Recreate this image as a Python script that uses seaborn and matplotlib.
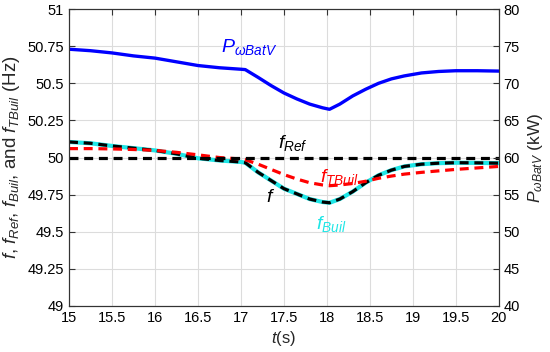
import numpy as np
import pandas as pd
import seaborn as sns
import matplotlib
matplotlib.use("Agg")
import matplotlib.pyplot as plt
from matplotlib.ticker import FuncFormatter

# values
t = [15, 15.25, 15.5, 15.75, 16, 16.25, 16.5, 16.75, 17, 17.05, 17.2, 17.35,
     17.5, 17.65, 17.8, 17.95, 18.03, 18.15, 18.3, 18.45, 18.6, 18.75, 18.9,
     19.1, 19.3, 19.5, 19.75, 20]
f = [50.105, 50.096, 50.078, 50.063, 50.048, 50.025, 49.995, 49.98, 49.97,
     49.965, 49.90, 49.845, 49.79, 49.755, 49.72, 49.70, 49.695, 49.72, 49.77,
     49.83, 49.88, 49.915, 49.94, 49.955, 49.962, 49.965, 49.964, 49.962]
f_buil = [50.105, 50.096, 50.078, 50.063, 50.048, 50.025, 49.995, 49.98, 49.97,
          49.965, 49.90, 49.845, 49.79, 49.755, 49.72, 49.70, 49.695, 49.72,
          49.77, 49.83, 49.88, 49.915, 49.94, 49.955, 49.962, 49.965, 49.964,
          49.962]
f_tbuil = [50.06, 50.06, 50.058, 50.054, 50.048, 50.035, 50.018, 50.0, 49.99,
           49.985, 49.955, 49.92, 49.885, 49.855, 49.83, 49.815, 49.81, 49.815,
           49.825, 49.84, 49.86, 49.875, 49.888, 49.90, 49.91, 49.92, 49.93,
           49.94]
f_ref = [50.0] * len(t)
p_batv = [74.6, 74.4, 74.1, 73.7, 73.4, 72.9, 72.4, 72.1, 71.9, 71.85, 70.8,
          69.7, 68.7, 67.9, 67.2, 66.7, 66.5, 67.2, 68.3, 69.2, 70.0, 70.6,
          71.0, 71.4, 71.6, 71.7, 71.7, 71.65]

df = pd.DataFrame({"t": t, "f": f, "f_buil": f_buil, "f_tbuil": f_tbuil,
                   "f_ref": f_ref, "p": p_batv})

sns.set_style("white")
plt.rcParams["font.family"] = ["Liberation Sans", "DejaVu Sans"]
plt.rcParams["mathtext.fontset"] = "custom"
plt.rcParams["mathtext.rm"] = "Liberation Sans"
plt.rcParams["mathtext.it"] = "Liberation Sans:italic"

fig = plt.figure(figsize=(5.5, 3.52), dpi=100)
ax = fig.add_axes([0.1255, 0.131, 0.7815, 0.843])
ax2 = ax.twinx()

dash = (0, (2.8, 1.8))
sns.lineplot(data=df, x="t", y="f_buil", ax=ax, color="#1ee6e6", lw=3.0)
sns.lineplot(data=df, x="t", y="f", ax=ax, color="black", lw=2.3,
             linestyle=dash)
sns.lineplot(data=df, x="t", y="f_tbuil", ax=ax, color="#ff0000", lw=2.3,
             linestyle=dash)
sns.lineplot(data=df, x="t", y="f_ref", ax=ax, color="black", lw=2.3,
             linestyle=dash)
sns.lineplot(data=df, x="t", y="p", ax=ax2, color="#0000ff", lw=2.4)

ax.set_xlim(15, 20)
ax.set_ylim(49, 51)
ax2.set_ylim(40, 80)
ax.set_xticks(np.arange(15, 20.01, 0.5))
ax.set_yticks(np.arange(49, 51.01, 0.25))
ax2.set_yticks(np.arange(40, 80.1, 5))
fmt = FuncFormatter(lambda v, p: f"{v:g}")
ax.xaxis.set_major_formatter(fmt)
ax.yaxis.set_major_formatter(fmt)

ax.grid(True, color="#dcdcdc", lw=0.8)
ax.set_axisbelow(True)
for a in (ax, ax2):
    a.tick_params(direction="in", length=4, width=0.8, colors="#333333",
                  labelcolor="black", labelsize=10.5)
    for s in a.spines.values():
        s.set_color("#333333")
        s.set_linewidth(0.8)
ax.tick_params(top=True, right=False)
ax2.tick_params(left=False, right=True)

ax.set_xlabel(r"$t$(s)", fontsize=12, labelpad=3)
ax.set_ylabel(r"$f$, $f_{Ref}$, $f_{Buil}$, and $f_{TBuil}$ (Hz)",
              fontsize=13.5, labelpad=4)
ax2.set_ylabel(r"$P_{\omega BatV}$ (kW)", fontsize=12.5, labelpad=4)

ax.text(17.1, 50.745, r"$P_{\omega BatV}$", color="#0000ff", fontsize=14,
        ha="center", va="center")
ax.text(17.6, 50.1, r"$f_{Ref}$", color="black", fontsize=14,
        ha="center", va="center")
ax.text(18.15, 49.87, r"$f_{TBuil}$", color="#ff0000", fontsize=14,
        ha="center", va="center")
ax.text(17.35, 49.73, r"$f$", color="black", fontsize=14,
        ha="center", va="center")
ax.text(18.05, 49.55, r"$f_{Buil}$", color="#1ee6e6", fontsize=14,
        ha="center", va="center")

fig.savefig("out.png", dpi=100)
